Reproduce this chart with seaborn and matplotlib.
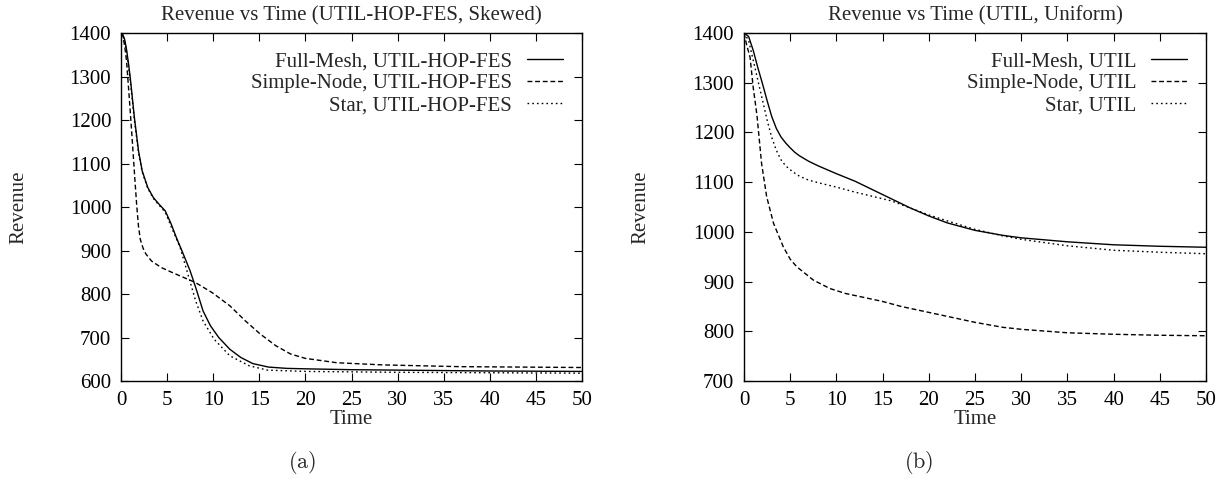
import numpy as np
import pandas as pd
import seaborn as sns
import matplotlib
matplotlib.use("Agg")
import matplotlib.pyplot as plt

# ---------------- data: panel (a) UTIL-HOP-FES, Skewed ----------------
a_full_t = [0, 0.2, 0.4, 0.6, 0.8, 1.0, 1.45, 1.9, 2.3, 2.9, 3.5, 4.1, 4.8, 5.4, 6.0, 6.75, 7.5,
            8.1, 8.9, 9.7, 10.6, 11.8, 13, 14.3, 16, 18, 20, 25, 30, 40, 50]
a_full_v = [1400, 1396, 1385, 1362, 1332, 1298, 1206, 1129, 1083, 1045, 1022, 1007, 991, 963, 930,
            892, 853, 815, 761, 727, 700, 673, 654, 640, 632, 629, 628, 626, 625, 623, 622]

a_simple_t = [0, 0.2, 0.4, 0.6, 0.9, 1.2, 1.5, 1.7, 1.9, 2.1, 2.4, 2.7, 3.3, 4.35, 5.6, 6.8, 8.1,
              9.9, 11.8, 13.5, 15.1, 16.8, 18.4, 20, 23.4, 28.4, 36.7, 50]
a_simple_v = [1400, 1393, 1370, 1336, 1250, 1160, 1065, 1005, 955, 925, 905, 892, 876, 861, 849,
              838, 826, 803, 773, 738, 708, 681, 662, 652, 642, 637, 633, 631]

a_star_t = [0, 0.2, 0.4, 0.6, 0.8, 1.0, 1.45, 1.9, 2.3, 2.9, 3.5, 4.1, 4.8, 5.4, 6.4, 7.25, 8.1,
            8.9, 10.1, 11.8, 13.9, 15.9, 20, 30, 40, 50]
a_star_v = [1400, 1395, 1382, 1357, 1325, 1292, 1200, 1125, 1080, 1043, 1020, 1005, 988, 957, 908,
            846, 784, 738, 696, 658, 635, 625, 622, 620, 619, 618]

# ---------------- data: panel (b) UTIL, Uniform ----------------
b_t = [0, 0.5, 1, 1.5, 2, 2.5, 3, 3.5, 4, 4.5, 5, 5.5, 6, 7, 8, 10, 12, 14, 16, 18, 20, 22,
       25, 28, 30, 35, 40, 45, 50]
b_full_v = [1400, 1393, 1365, 1330, 1298, 1264, 1232, 1208, 1191, 1179, 1169, 1160, 1153, 1142,
            1133, 1117, 1102, 1084, 1066, 1048, 1032, 1018, 1003, 993, 988, 980, 974, 971, 969]
b_star_v = [1400, 1385, 1345, 1305, 1265, 1225, 1190, 1164, 1145, 1133, 1125, 1118, 1112, 1104,
            1099, 1090, 1080, 1071, 1062, 1048, 1034, 1022, 1005, 992, 985, 972, 963, 959, 956]

b_simple_t = [0, 0.3, 0.65, 1, 1.4, 1.9, 2.45, 3.2, 4.25, 5, 5.7, 7.5, 9.3, 11, 13, 15,
              17, 20, 23, 25, 28, 30, 35, 40, 45, 50]
b_simple_v = [1400, 1375, 1352, 1290, 1235, 1138, 1071, 1017, 970, 945, 930, 903, 886, 876,
              868, 860, 850, 838, 826, 818, 808, 804, 797, 794, 792, 791]

x_ticks = [0, 5, 10, 15, 20, 25, 30, 35, 40, 45, 50]
a_yticks = [600, 700, 800, 900, 1000, 1100, 1200, 1300, 1400]
b_yticks = [700, 800, 900, 1000, 1100, 1200, 1300, 1400]

titles = ["Revenue vs Time (UTIL-HOP-FES, Skewed)", "Revenue vs Time (UTIL, Uniform)"]
captions = ["(a)", "(b)"]
a_labels = ["Full-Mesh, UTIL-HOP-FES", "Simple-Node, UTIL-HOP-FES", "Star, UTIL-HOP-FES"]
b_labels = ["Full-Mesh, UTIL", "Simple-Node, UTIL", "Star, UTIL"]

# ---------------- style ----------------
sns.set_style("ticks")
plt.rcParams["font.family"] = ["Liberation Serif", "DejaVu Serif"]
plt.rcParams["mathtext.fontset"] = "cm"
FS = 15

fig = plt.figure(figsize=(12.25, 4.86), dpi=100)
W, H = 1225, 486
def add_ax(left, right, top, bottom):
    return fig.add_axes([left / W, 1 - bottom / H, (right - left) / W, (bottom - top) / H])

ax_a = add_ax(121, 582, 33, 381)
ax_b = add_ax(744, 1206, 33, 381)

styles = ["-", (0, (3.5, 2)), (0, (1.2, 2.2))]

def draw(ax, series, labels, yticks, ylim, title):
    for (t, v), lab, ls in zip(series, labels, styles):
        df = pd.DataFrame({"Time": t, "Revenue": v})
        sns.lineplot(data=df, x="Time", y="Revenue", ax=ax, color="black",
                     linewidth=1.0, linestyle=ls, label=lab, estimator=None, sort=False)
    ax.set_xlim(0, 50)
    ax.set_ylim(*ylim)
    ax.set_xticks(x_ticks)
    ax.set_yticks(yticks)
    ax.tick_params(direction="in", length=6, width=0.8, top=True, right=True,
                   labelsize=FS, pad=7, colors="black")
    for s in ax.spines.values():
        s.set_linewidth(1.0)
        s.set_color("black")
    ax.set_xlabel("Time", fontsize=FS, labelpad=0)
    ax.set_ylabel("")
    ax.set_title(title, fontsize=FS, pad=9)
    leg = ax.legend(loc="upper right", frameon=False, markerfirst=False, fontsize=FS,
                    handlelength=1.75, handletextpad=0.7, labelspacing=0.12,
                    borderaxespad=0.6, borderpad=0.3)
    for txt in leg.get_texts():
        txt.set_ha("right")
    leg._legend_box.align = "right"

draw(ax_a, [(a_full_t, a_full_v), (a_simple_t, a_simple_v), (a_star_t, a_star_v)],
     a_labels, a_yticks, (600, 1400), titles[0])
draw(ax_b, [(b_t, b_full_v), (b_simple_t, b_simple_v), (b_t, b_star_v)],
     b_labels, b_yticks, (700, 1400), titles[1])

fig.text(19 / W, 1 - 207 / H, "Revenue", rotation=90, ha="center", va="center", fontsize=FS)
fig.text(641 / W, 1 - 207 / H, "Revenue", rotation=90, ha="center", va="center", fontsize=FS)
fig.text(302 / W, 1 - 462 / H, r"$\mathrm{(a)}$", ha="center", va="center", fontsize=FS + 1)
fig.text(919 / W, 1 - 462 / H, r"$\mathrm{(b)}$", ha="center", va="center", fontsize=FS + 1)

fig.savefig("out.png", dpi=100, facecolor="white")
